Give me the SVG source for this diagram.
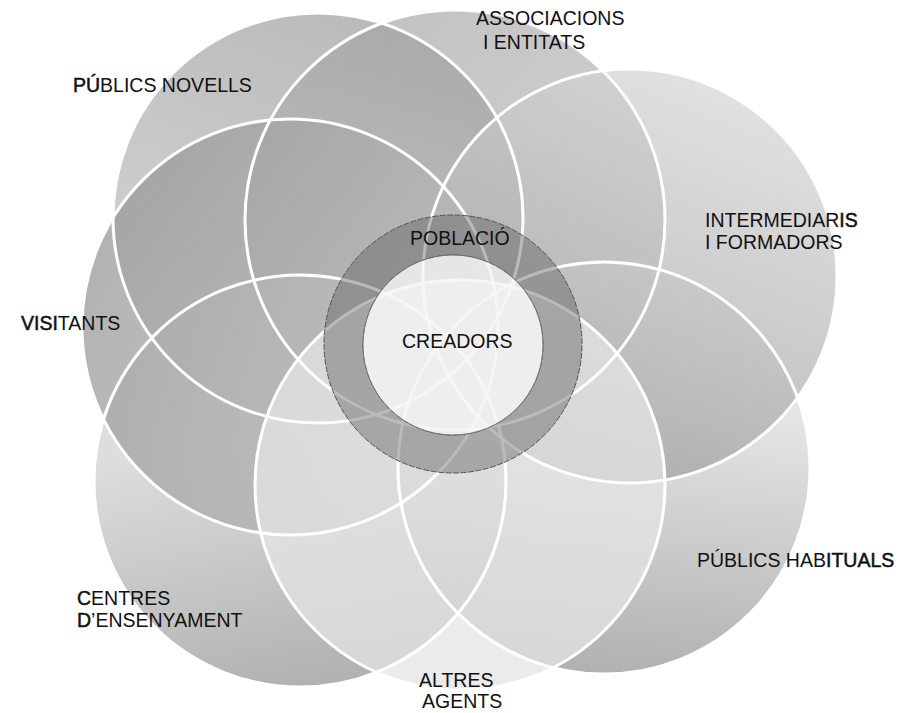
<svg xmlns="http://www.w3.org/2000/svg" width="900" height="713" viewBox="0 0 900 713">
<defs>
<linearGradient id="gA" x1="0" y1="0" x2="1" y2="1"><stop offset="0" stop-color="#a8a8a8"/><stop offset="1" stop-color="#c8c8c8"/></linearGradient>
<linearGradient id="gPN" x1="0.6" y1="0" x2="0.2" y2="1"><stop offset="0" stop-color="#a2a2a2"/><stop offset="1" stop-color="#cccccc"/></linearGradient>
<linearGradient id="gI" x1="0.7" y1="0" x2="0.3" y2="1"><stop offset="0" stop-color="#d8d8d8"/><stop offset="1" stop-color="#9c9c9c"/></linearGradient>
<linearGradient id="gPH" x1="0.5" y1="0" x2="0.4" y2="1"><stop offset="0" stop-color="#e6e6e6"/><stop offset="0.35" stop-color="#dadada"/><stop offset="1" stop-color="#949494"/></linearGradient>
<linearGradient id="gAL" x1="0" y1="0" x2="0" y2="1"><stop offset="0" stop-color="#e6e6e6"/><stop offset="1" stop-color="#e4e4e4"/></linearGradient>
<linearGradient id="gC" x1="0.3" y1="0" x2="0.5" y2="1"><stop offset="0" stop-color="#dadada"/><stop offset="0.4" stop-color="#d0d0d0"/><stop offset="1" stop-color="#969696"/></linearGradient>
<linearGradient id="gV" x1="0" y1="0" x2="1" y2="0.4"><stop offset="0" stop-color="#929292"/><stop offset="1" stop-color="#bcbcbc"/></linearGradient>
</defs>
<style>
.c{fill-opacity:0.74;stroke:none}
.e{fill:none;stroke:#ffffff;stroke-width:3}
text{font-family:"Liberation Sans",Arial,sans-serif;font-size:19.5px;fill:#111}
.b{stroke:#111;stroke-width:0.5}
</style>
<rect width="900" height="713" fill="#ffffff"/>
<g id="fills">
<circle id="c-assoc" class="c" cx="455" cy="220" r="210" fill="url(#gA)"/>
<circle id="c-pn" class="c" cx="318" cy="218" r="205" fill="url(#gPN)"/>
<circle id="c-centres" class="c" cx="300" cy="481" r="206" fill="url(#gC)"/>
<circle id="c-ph" class="c" cx="604" cy="468" r="206" fill="url(#gPH)"/>
<circle id="c-interm" class="c" cx="630" cy="276" r="207" fill="url(#gI)"/>
<circle id="c-visit" class="c" cx="290" cy="327" r="208" fill="url(#gV)"/>
<circle id="c-altres" class="c" cx="460" cy="485" r="205" fill="url(#gAL)"/>
</g>
<g id="edges">
<circle class="e" cx="455" cy="220" r="210"/>
<circle class="e" cx="318" cy="218" r="205"/>
<circle class="e" cx="300" cy="481" r="206"/>
<circle class="e" cx="604" cy="468" r="206"/>
<circle class="e" cx="630" cy="276" r="207"/>
<circle class="e" cx="290" cy="327" r="208"/>
<circle class="e" cx="460" cy="485" r="205"/>
</g>
<g id="poblacio">
<path d="M453 215 a129 129 0 1 0 0.01 0 Z M453 255 a90 90 0 1 1 -0.01 0 Z" fill="#5a5a5a" fill-opacity="0.42" fill-rule="evenodd" stroke="#555" stroke-width="1" stroke-dasharray="6 1.5"/>
<text x="410" y="245">POBLACIÓ</text>
</g>
<g id="creadors">
<circle cx="453" cy="345" r="90" fill="#f4f4f4" fill-opacity="0.78" stroke="#666" stroke-width="0.8"/>
<text x="402" y="348">CREADORS</text>
</g>
<g id="labels">
<text id="t-pn" x="73" y="92"><tspan class="b">PÚ</tspan>BLICS NOVELLS</text>
<text id="t-assoc" x="476" y="25">ASSOCIACIONS</text>
<text id="t-assoc2" x="483" y="49">I ENTITATS</text>
<text id="t-interm" x="705" y="227">INTERMEDIAR<tspan class="b">IS</tspan></text>
<text id="t-interm2" x="705" y="249">I FORMADORS</text>
<text id="t-visit" x="21" y="330"><tspan class="b">VISI</tspan>TANTS</text>
<text id="t-ph" x="697" y="567">PÚBLICS HAB<tspan class="b">ITUALS</tspan></text>
<text id="t-centres" x="77" y="605"><tspan class="b">C</tspan>ENTRES</text>
<text id="t-centres2" x="77" y="627"><tspan class="b">D</tspan>’ENSENYAMENT</text>
<text id="t-altres" x="419" y="687">ALTRES</text>
<text id="t-altres2" x="422" y="708">AGENTS</text>
</g>
</svg>
